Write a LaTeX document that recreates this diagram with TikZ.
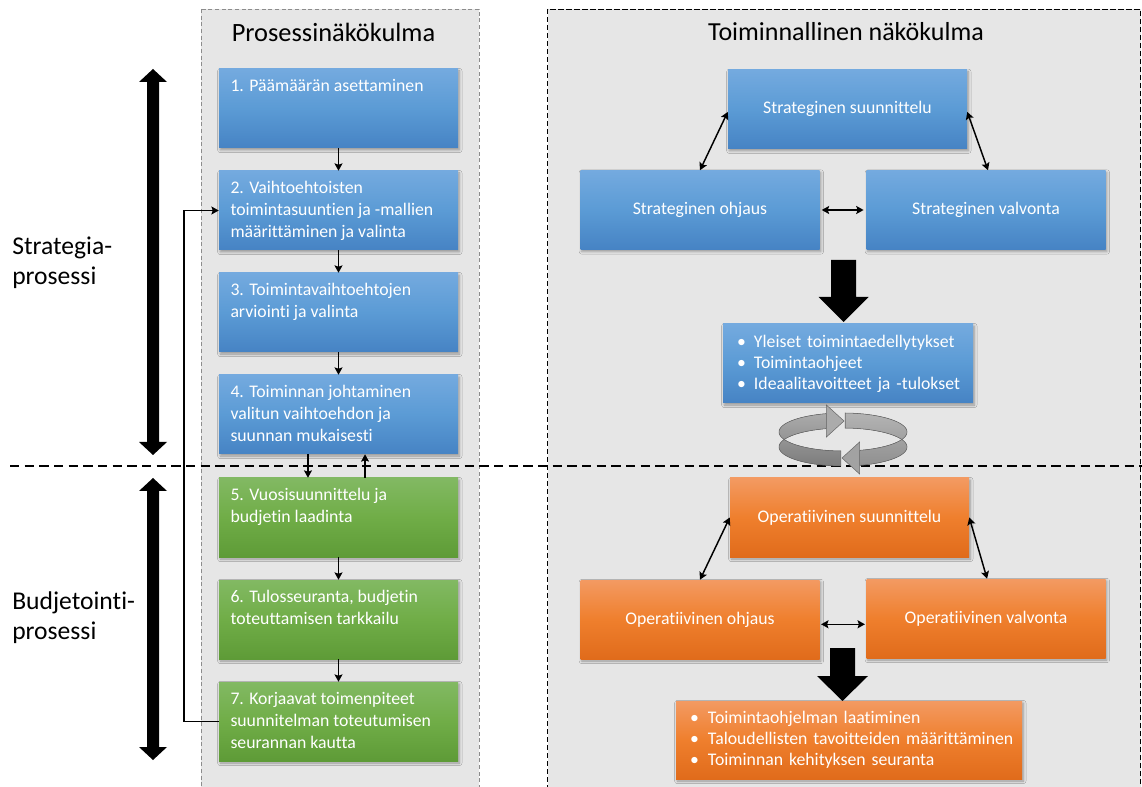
\documentclass[tikz,border=0pt]{standalone}
\usepackage{fontspec}
\setmainfont{Carlito}[Ligatures=NoCommon]
\usetikzlibrary{arrows.meta,shadows.blur}

\definecolor{panelgray}{HTML}{E6E6E6}
\definecolor{paneledge}{HTML}{8C8C8C}
\definecolor{blueT}{HTML}{74AADF}
\definecolor{blueM}{HTML}{5B9BD5}
\definecolor{blueB}{HTML}{4683C4}
\definecolor{greenT}{HTML}{82B963}
\definecolor{greenM}{HTML}{70AD47}
\definecolor{greenB}{HTML}{5E9B37}
\definecolor{orangeT}{HTML}{F39A62}
\definecolor{orangeM}{HTML}{EF7F2D}
\definecolor{orangeB}{HTML}{E06B1B}
\definecolor{ringLight}{HTML}{ABABAB}
\definecolor{ringDark}{HTML}{7C7C7C}
\definecolor{ringEdge}{HTML}{6A6A6A}

\newcommand\cardfont{\fontsize{13.3pt}{16.5pt}\selectfont}
\newcommand\listfont{\fontsize{13.3pt}{15.8pt}\selectfont}
\newcommand\cardtxt[1]{\parbox[c][59.25pt][t]{162pt}{\cardfont\raggedright\rule{0pt}{17pt}#1}}
\newcommand\bulletrow[2]{\mbox{\makebox[#1][l]{\textbullet}#2}}

\tikzset{
  card/.style={rectangle, inner sep=0pt, minimum width=179.25pt,
    minimum height=59.25pt, text=white,
    blur shadow={shadow xshift=1pt, shadow yshift=-1.5pt,
      shadow blur radius=2pt, shadow opacity=35}},
  bluecard/.style={card, top color=blueT, bottom color=blueB, middle color=blueM},
  greencard/.style={card, top color=greenT, bottom color=greenB, middle color=greenM},
  orangecard/.style={card, top color=orangeT, bottom color=orangeB, middle color=orangeM},
  centertext/.style={font=\cardfont, align=center},
  flow/.style={line width=1.1pt, -{Stealth[length=5.5pt,width=6pt,inset=1pt]}},
  twoway/.style={line width=1.1pt, {Stealth[length=5.5pt,width=6pt,inset=1pt]}-{Stealth[length=5.5pt,width=6pt,inset=1pt]}},
  panel/.style={fill=panelgray, line width=0.7pt, dash pattern=on 3pt off 2pt},
  ringband/.style={draw=ringEdge, line width=0.4pt},
}

\begin{document}
\begin{tikzpicture}[x=0.75pt, y=-0.75pt]
\useasboundingbox (0,0) rectangle (1142,787);
\fill[white] (0,0) rectangle (1142,787);

% the two dashed panels
\draw[panel, draw=paneledge] (201,9) rectangle (479,800);
\draw[panel, draw=black, dash pattern=on 4pt off 2pt] (547.5,9) rectangle (1140.5,800);

\node[font=\fontsize{19.8pt}{24pt}\selectfont] (ptitle) at (333.5,32) {Prosessinäkökulma};
\node[font=\fontsize{19.5pt}{24pt}\selectfont] (ftitle) at (846,32) {Toiminnallinen näkökulma};

% boundary between strategy and budgeting
\draw[line width=1.5pt, dash pattern=on 7pt off 4pt] (10,466) -- (1142,466);

% side labels
\node[anchor=west, align=left, font=\fontsize{19.2pt}{22.5pt}\selectfont, inner sep=0pt]
  (lstrat) at (12,263) {Strategia-\\prosessi};
\node[anchor=west, align=left, font=\fontsize{19.2pt}{22.5pt}\selectfont, inner sep=0pt]
  (lbudj) at (12,618) {Budjetointi-\\prosessi};

% vertical double arrows
\fill (153,69) -- (167,82) -- (159,82) -- (159,442) -- (167,442) -- (153,455)
  -- (139,442) -- (147,442) -- (147,82) -- (139,82) -- cycle;
\fill (153,478) -- (167,491) -- (159,491) -- (159,747) -- (167,747) -- (153,760)
  -- (139,747) -- (147,747) -- (147,491) -- (139,491) -- cycle;

% process steps
\node[bluecard] (b1) at (338.5,108.5) {\cardtxt{1. Päämäärän asettaminen}};
\node[bluecard] (b2) at (338.5,210.5) {\cardtxt{2. Vaihtoehtoisten\\toimintasuuntien ja -mallien\\määrittäminen ja valinta}};
\node[bluecard] (b3) at (338.5,312.5) {\cardtxt{3. Toimintavaihtoehtojen\\arviointi ja valinta}};
\node[bluecard] (b4) at (338.5,414.5) {\cardtxt{4. Toiminnan johtaminen\\valitun vaihtoehdon ja\\suunnan mukaisesti}};
\node[greencard] (b5) at (338.5,517.5) {\cardtxt{5. Vuosisuunnittelu ja\\budjetin laadinta}};
\node[greencard] (b6) at (338.5,619.5) {\cardtxt{6. Tulosseuranta, budjetin\\toteuttamisen tarkkailu}};
\node[greencard] (b7) at (338.5,721.5) {\cardtxt{7. Korjaavat toimenpiteet\\suunnitelman toteutumisen\\seurannan kautta}};

\draw[flow] (b1.south) -- (b2.north);
\draw[flow] (b2.south) -- (b3.north);
\draw[flow] (b3.south) -- (b4.north);
\draw[flow] ([xshift=-22.9pt]b4.south) -- ([xshift=-22.9pt]b5.north);
\draw[flow] ([xshift=19.9pt]b5.north) -- ([xshift=19.9pt]b4.south);
\draw[flow] (b5.south) -- (b6.north);
\draw[flow] (b6.south) -- (b7.north);

% feedback loop from step 7 back to step 2
\coordinate (fb) at (184,0);
\draw[flow] (b7.west) -- (b7.west -| fb) -- (b2.west -| fb) -- (b2.west);

% strategic triangle
\node[bluecard, centertext] (ss) at (847.5,109.3) {Strateginen suunnittelu};
\node[bluecard, centertext] (so) at (700,210) {Strateginen ohjaus};
\node[bluecard, centertext] (sv) at (986,210) {Strateginen valvonta};
\draw[twoway] ([yshift=-2pt]ss.west) -- (so.north);
\draw[twoway] ([yshift=-2pt]ss.east) -- ([xshift=1.5pt]sv.north);
\draw[twoway, shorten <=1.5pt, shorten >=2pt] (so.east) -- (sv.west);

\fill (831,260) -- (856,260) -- (856,297) -- (868.5,297) -- (843.5,322)
  -- (818.5,297) -- (831,297) -- cycle;

\node[card, top color=blueT, bottom color=blueB, middle color=blueM,
  minimum width=187.5pt, text width=166.5pt, inner xsep=10.5pt, align=left,
  font=\listfont] (sl) at (848,363.5)
  {\bulletrow{12.75pt}{Yleiset toimintaedellytykset}\\
   \bulletrow{12.75pt}{Toimintaohjeet}\\
   \bulletrow{12.75pt}{Ideaalitavoitteet ja -tulokset}};

% cycle symbol between the two levels
\begin{scope}[samples=40]
  \fill[ringband, top color=ringLight, bottom color=ringDark]
    plot[domain=92:255] ({843+64*cos(\x)},{432+19*sin(\x)})
    -- plot[domain=255:92] ({843+64*cos(\x)},{447+19*sin(\x)}) -- cycle;
  \fill[ringband, fill=ringLight] (826.4,405) -- (844,421) -- (826.4,437) -- cycle;
  \fill[ringband, top color=ringLight!90, bottom color=ringDark!85]
    plot[domain=272:435] ({843+64*cos(\x)},{432+19*sin(\x)})
    -- plot[domain=435:272] ({843+64*cos(\x)},{447+19*sin(\x)}) -- cycle;
  \fill[ringband, fill=ringLight!95!black] (859.6,442) -- (842,458) -- (859.6,474) -- cycle;
\end{scope}

% operational triangle
\node[orangecard, centertext] (os) at (849.5,517.5) {Operatiivinen suunnittelu};
\node[orangecard, centertext] (oo) at (700,619.5) {Operatiivinen ohjaus};
\node[orangecard, centertext] (ov) at (986,618.5) {Operatiivinen valvonta};
\draw[twoway] (os.west) -- (oo.north);
\draw[twoway] (os.east) -- ([xshift=0.8pt]ov.north);
\draw[twoway, shorten <=1pt, shorten >=1pt] ([yshift=-3.6pt]oo.east) -- ([yshift=-3.6pt]oo.east -| ov.west);

\fill (830,648) -- (855,648) -- (855,676) -- (868,676) -- (842.5,701)
  -- (817,676) -- (830,676) -- cycle;

\node[card, top color=orangeT, bottom color=orangeB, middle color=orangeM,
  minimum width=259.5pt, minimum height=58.5pt, text width=238.5pt,
  inner xsep=10.5pt, align=left, font=\listfont] (ol) at (849,740)
  {\bulletrow{13.5pt}{Toimintaohjelman laatiminen}\\
   \bulletrow{13.5pt}{Taloudellisten tavoitteiden määrittäminen}\\
   \bulletrow{13.5pt}{Toiminnan kehityksen seuranta}};
\end{tikzpicture}
\end{document}
